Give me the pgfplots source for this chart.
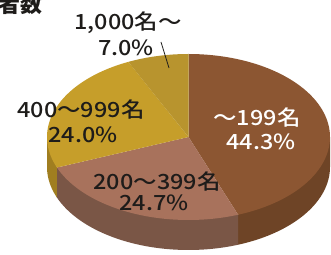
\documentclass[border=0pt]{standalone}
\usepackage{pgfplots}
\pgfplotsset{compat=1.18}
\usepackage{pgfplotstable}
\usepackage{fontspec}
\setmainfont{Noto Sans CJK JP}
\newfontfamily\lab[FakeStretch=1.12]{Noto Sans CJK JP Medium}
\newfontfamily\ttl{Noto Sans CJK JP Black}
\definecolor{cA}{RGB}{140,86,50}
\definecolor{cAs}{RGB}{110,68,38}
\definecolor{cB}{RGB}{168,114,92}
\definecolor{cBs}{RGB}{122,86,70}
\definecolor{cC}{RGB}{198,158,42}
\definecolor{cCs}{RGB}{160,126,32}
\definecolor{cD}{RGB}{184,148,46}
\definecolor{txt}{RGB}{30,28,26}

\pgfplotstableread{
label value
a 44.3
b 24.7
c 24.0
d 7.0
}\piedata
\pgfplotstablegetelem{0}{value}\of\piedata \let\va\pgfplotsretval
\pgfplotstablegetelem{1}{value}\of\piedata \let\vb\pgfplotsretval
\pgfplotstablegetelem{2}{value}\of\piedata \let\vc\pgfplotsretval
\pgfplotstablegetelem{3}{value}\of\piedata \let\vd\pgfplotsretval
\pgfmathsetmacro\aA{90-3.6*\va}
\pgfmathsetmacro\aB{\aA-3.6*\vb}
\pgfmathsetmacro\aC{\aB-3.6*\vc}
\pgfmathsetmacro\aD{\aC-3.6*\vd}
\def\cx{188.5}
\def\cy{118}
\def\rx{141.5}
\def\ry{83}
\def\th{30}

\begin{document}
\begin{tikzpicture}
\begin{axis}[scale only axis, width=331bp, height=255bp,
  xmin=0, xmax=331, ymin=0, ymax=255, hide axis, clip=false]
\coordinate (ll) at (0,0);
\coordinate (ur) at (331,255);
% sides
\addplot[fill=cAs, draw=none, variable=\t, domain=\aA:0, samples=60]
  ({\cx+\rx*cos(\t)},{\cy-\th+\ry*sin(\t)})
  -- ({\cx+\rx},{\cy}) -- ({\cx+\rx*cos(\aA)},{\cy+\ry*sin(\aA)}) -- cycle;
\addplot[fill=cBs, draw=none, variable=\t, domain=\aB:\aA, samples=60]
  ({\cx+\rx*cos(\t)},{\cy-\th+\ry*sin(\t)})
  -- ({\cx+\rx*cos(\aA)},{\cy+\ry*sin(\aA)}) -- ({\cx+\rx*cos(\aB)},{\cy+\ry*sin(\aB)}) -- cycle;
\addplot[fill=cCs, draw=none, variable=\t, domain=-180:\aB, samples=30]
  ({\cx+\rx*cos(\t)},{\cy-\th+\ry*sin(\t)})
  -- ({\cx+\rx*cos(\aB)},{\cy+\ry*sin(\aB)}) -- ({\cx-\rx},{\cy}) -- cycle;
% tops
\addplot[fill=cA, draw=none, variable=\t, domain=\aA:90, samples=80]
  ({\cx+\rx*cos(\t)},{\cy+\ry*sin(\t)}) -- (\cx,\cy) -- cycle;
\addplot[fill=cB, draw=none, variable=\t, domain=\aB:\aA, samples=60]
  ({\cx+\rx*cos(\t)},{\cy+\ry*sin(\t)}) -- (\cx,\cy) -- cycle;
\addplot[fill=cC, draw=none, variable=\t, domain=\aC:\aB, samples=60]
  ({\cx+\rx*cos(\t)},{\cy+\ry*sin(\t)}) -- (\cx,\cy) -- cycle;
\addplot[fill=cD, draw=none, variable=\t, domain=\aD:\aC, samples=30]
  ({\cx+\rx*cos(\t)},{\cy+\ry*sin(\t)}) -- (\cx,\cy) -- cycle;
% leader line
\addplot[draw=txt, line width=0.8pt] coordinates {(161,213) (169,187)};
% labels
\begin{scope}[every node/.style={font=\lab\fontsize{21}{25}\selectfont, inner sep=0pt}]
\node[txt] at (128,232) {1,000名～};
\node[txt] at (126,207) {7.0\%};
\node[txt] at (81,145) {400～999名};
\node[txt] at (83,120) {24.0\%};
\node[white] at (257,137) {～199名};
\node[white] at (261,113) {44.3\%};
\node[txt] at (157,73) {200～399名};
\node[txt] at (154,52) {24.7\%};
\end{scope}
\node[anchor=base east, inner sep=0pt, font=\ttl\fontsize{22}{24}\selectfont, txt] at (43,242) {者数};
\end{axis}
\pgfresetboundingbox
\path[use as bounding box] (ll) rectangle (ur);
\end{tikzpicture}
\end{document}
